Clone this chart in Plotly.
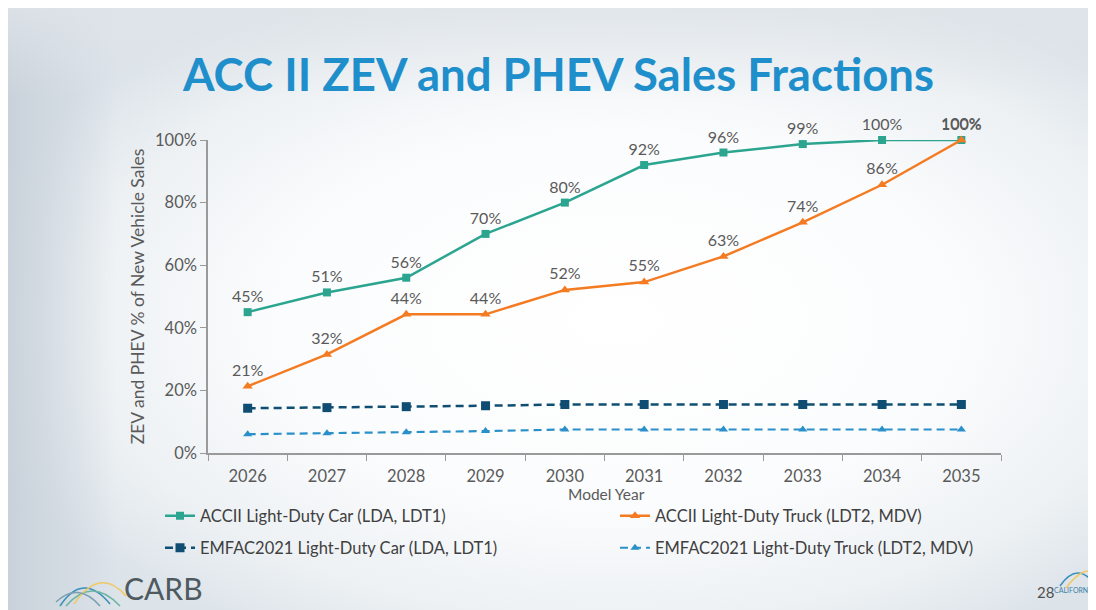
import base64
import plotly.graph_objects as go

years = ["2026", "2027", "2028", "2029", "2030", "2031", "2032", "2033", "2034", "2035"]
accii_car = [45, 51.3, 56, 70, 80, 92, 96, 98.7, 100, 100]
accii_truck = [21.3, 31.5, 44.3, 44.3, 52.1, 54.6, 62.8, 73.7, 85.7, 100]
emfac_car = [14.3, 14.5, 14.8, 15.1, 15.5, 15.5, 15.5, 15.5, 15.5, 15.5]
emfac_truck = [6.0, 6.3, 6.6, 7.0, 7.5, 7.5, 7.5, 7.5, 7.5, 7.5]
yticks = [0, 20, 40, 60, 80, 100]
ytick_labels = ["0%", "20%", "40%", "60%", "80%", "100%"]

W, H = 1088, 602          # page body margin puts figure at (8, 8)
L, R, T, B = 200, 95, 132, 157
PW, PH = W - L - R, H - T - B

TEAL = "#2ba58f"
ORANGE = "#f47b22"
NAVY = "#0f4e72"
LBLUE = "#2a90ca"
GREY = "#5a5a5a"
FONT = "Lato"


def px(x):   # figure pixel -> paper x
    return (x - L) / PW


def py(y):   # figure pixel -> paper y
    return 1 - (y - T) / PH


fig = go.Figure()
fig.add_trace(go.Scatter(
    x=years, y=accii_car, name="ACCII Light-Duty Car (LDA, LDT1)",
    mode="lines+markers+text", line=dict(color=TEAL, width=2.5),
    marker=dict(symbol="square", size=8, color=TEAL),
    text=[f"{v:.0f}%" for v in accii_car], textposition="top center", cliponaxis=False,
    textfont=dict(size=16, color=GREY, family=FONT), legend="legend"))
fig.add_trace(go.Scatter(
    x=years, y=accii_truck, name="ACCII Light-Duty Truck (LDT2, MDV)",
    mode="lines+markers+text", line=dict(color=ORANGE, width=2.5),
    marker=dict(symbol="triangle-up", size=9, color=ORANGE),
    text=[f"{v:.0f}%" for v in accii_truck], textposition="top center", cliponaxis=False,
    textfont=dict(size=16, color=GREY, family=FONT), legend="legend2"))
fig.add_trace(go.Scatter(
    x=years, y=emfac_car, name="EMFAC2021 Light-Duty Car (LDA, LDT1)",
    mode="lines+markers", line=dict(color=NAVY, width=2.5, dash="8px,5px"), cliponaxis=False,
    marker=dict(symbol="square", size=9, color=NAVY), legend="legend3"))
fig.add_trace(go.Scatter(
    x=years, y=emfac_truck, name="EMFAC2021 Light-Duty Truck (LDT2, MDV)",
    mode="lines+markers", line=dict(color=LBLUE, width=2.2, dash="8px,5px"), cliponaxis=False,
    marker=dict(symbol="triangle-up", size=8, color=LBLUE), legend="legend4"))

svg = f"""<svg xmlns='http://www.w3.org/2000/svg' width='{W}' height='{H}'>
<defs>
<radialGradient id='g' cx='0.56' cy='0.52' r='0.62'>
<stop offset='0' stop-color='#ffffff'/>
<stop offset='0.5' stop-color='#fbfcfd'/>
<stop offset='0.8' stop-color='#edf1f4'/>
<stop offset='1' stop-color='#dce3e9'/>
</radialGradient>
<linearGradient id='l' x1='0' y1='0' x2='1' y2='0'>
<stop offset='0' stop-color='#c7d0d9' stop-opacity='0.9'/>
<stop offset='0.1' stop-color='#c7d0d9' stop-opacity='0'/>
</linearGradient>
<linearGradient id='t' x1='0' y1='0' x2='0' y2='1'>
<stop offset='0' stop-color='#dfe4e9' stop-opacity='0.8'/>
<stop offset='0.15' stop-color='#dfe4e9' stop-opacity='0'/>
</linearGradient>
</defs>
<rect width='100%' height='100%' fill='url(#g)'/>
<rect width='100%' height='100%' fill='url(#l)'/>
<rect width='100%' height='100%' fill='url(#t)'/>
</svg>"""
bg_src = "data:image/svg+xml;base64," + base64.b64encode(svg.encode()).decode()


def legend_at(x, y):
    return dict(orientation="h", xref="container", yref="container",
                x=x / W, y=1 - y / H, xanchor="left", yanchor="middle",
                itemwidth=30, font=dict(size=16.5, color="#404040", family=FONT),
                bgcolor="rgba(0,0,0,0)", borderwidth=0)


# CARB logo arcs (decorative)
logo = [
    ("M 52,598 Q 75,563 102,596", "#3b8fb8"),
    ("M 58,598 Q 84,568 112,598", "#6bb5a3"),
    ("M 66,596 Q 92,558 118,588", "#f0c865"),
    ("M 48,594 Q 70,573 92,598", "#7a9fb0"),
    ("M 1052,578 Q 1070,552 1088,578", "#3b8fb8"),
    ("M 1058,580 Q 1076,556 1088,566", "#f0c865"),
]
shapes = []
for path, col in logo:
    shapes.append(dict(type="path", xref="paper", yref="paper",
                       path=" ".join(
                           (f"{px(float(p.split(',')[0])):.5f},{py(float(p.split(',')[1])):.5f}"
                            if "," in p else p) for p in path.split()),
                       line=dict(color=col, width=1.5), layer="above"))

fig.update_layout(
    width=W, height=H,
    paper_bgcolor="#f4f6f8", plot_bgcolor="rgba(0,0,0,0)",
    margin=dict(l=L, r=R, t=T, b=B, autoexpand=False),
    font=dict(family=FONT, color=GREY),
    images=[dict(source=bg_src, xref="paper", yref="paper", x=px(0), y=py(0),
                 sizex=W / PW, sizey=H / PH, xanchor="left", yanchor="top",
                 sizing="stretch", layer="below")],
    shapes=shapes,
    xaxis=dict(type="category", range=[-0.5, 9.5], showline=True, linecolor="#9a9a9a",
               linewidth=1.5, ticks="outside", tickson="boundaries", ticklen=6,
               tickcolor="#9a9a9a", showgrid=False, zeroline=False, automargin=False,
               ticklabelstandoff=7,
               tickfont=dict(size=16.5, color=GREY)),
    yaxis=dict(range=[0, 100], tickvals=yticks, ticktext=ytick_labels, showline=True,
               linecolor="#9a9a9a", linewidth=1.5, ticks="outside", ticklen=6,
               tickcolor="#9a9a9a", showgrid=False, zeroline=False, automargin=False,
               tickfont=dict(size=16.5, color=GREY),
               title=dict(text="ZEV and PHEV % of New Vehicle Sales",
                          font=dict(size=17.5, color=GREY), standoff=6)),
    legend=legend_at(152, 508),
    legend2=legend_at(607, 508),
    legend3=legend_at(152, 540),
    legend4=legend_at(607, 540),
    showlegend=True,
)

fig.add_annotation(text="Model Year", xref="paper", yref="paper",
                   x=px(598), y=py(486), xanchor="center", yanchor="middle", showarrow=False,
                   font=dict(size=15.5, color=GREY, family=FONT))
fig.add_annotation(text="<b>ACC II ZEV and PHEV Sales Fractions</b>", xref="paper", yref="paper",
                   x=px(550), y=py(66), xanchor="center", yanchor="middle", showarrow=False,
                   font=dict(size=45.5, color="#1f8fcb", family=FONT))
fig.add_annotation(text="CARB", xref="paper", yref="paper",
                   x=px(114), y=py(580), xanchor="left", yanchor="middle", showarrow=False,
                   font=dict(size=30, color="#4f5a60", family=FONT))
fig.add_annotation(text="28", xref="paper", yref="paper",
                   x=px(1027), y=py(584), xanchor="left", yanchor="middle", showarrow=False,
                   font=dict(size=15, color="#505050", family=FONT))
fig.add_annotation(text="CALIFORNIA", xref="paper", yref="paper",
                   x=px(1044), y=py(582), xanchor="left", yanchor="middle", showarrow=False,
                   font=dict(size=7, color="#3b7fa8", family=FONT))

fig.write_html("out.html")
